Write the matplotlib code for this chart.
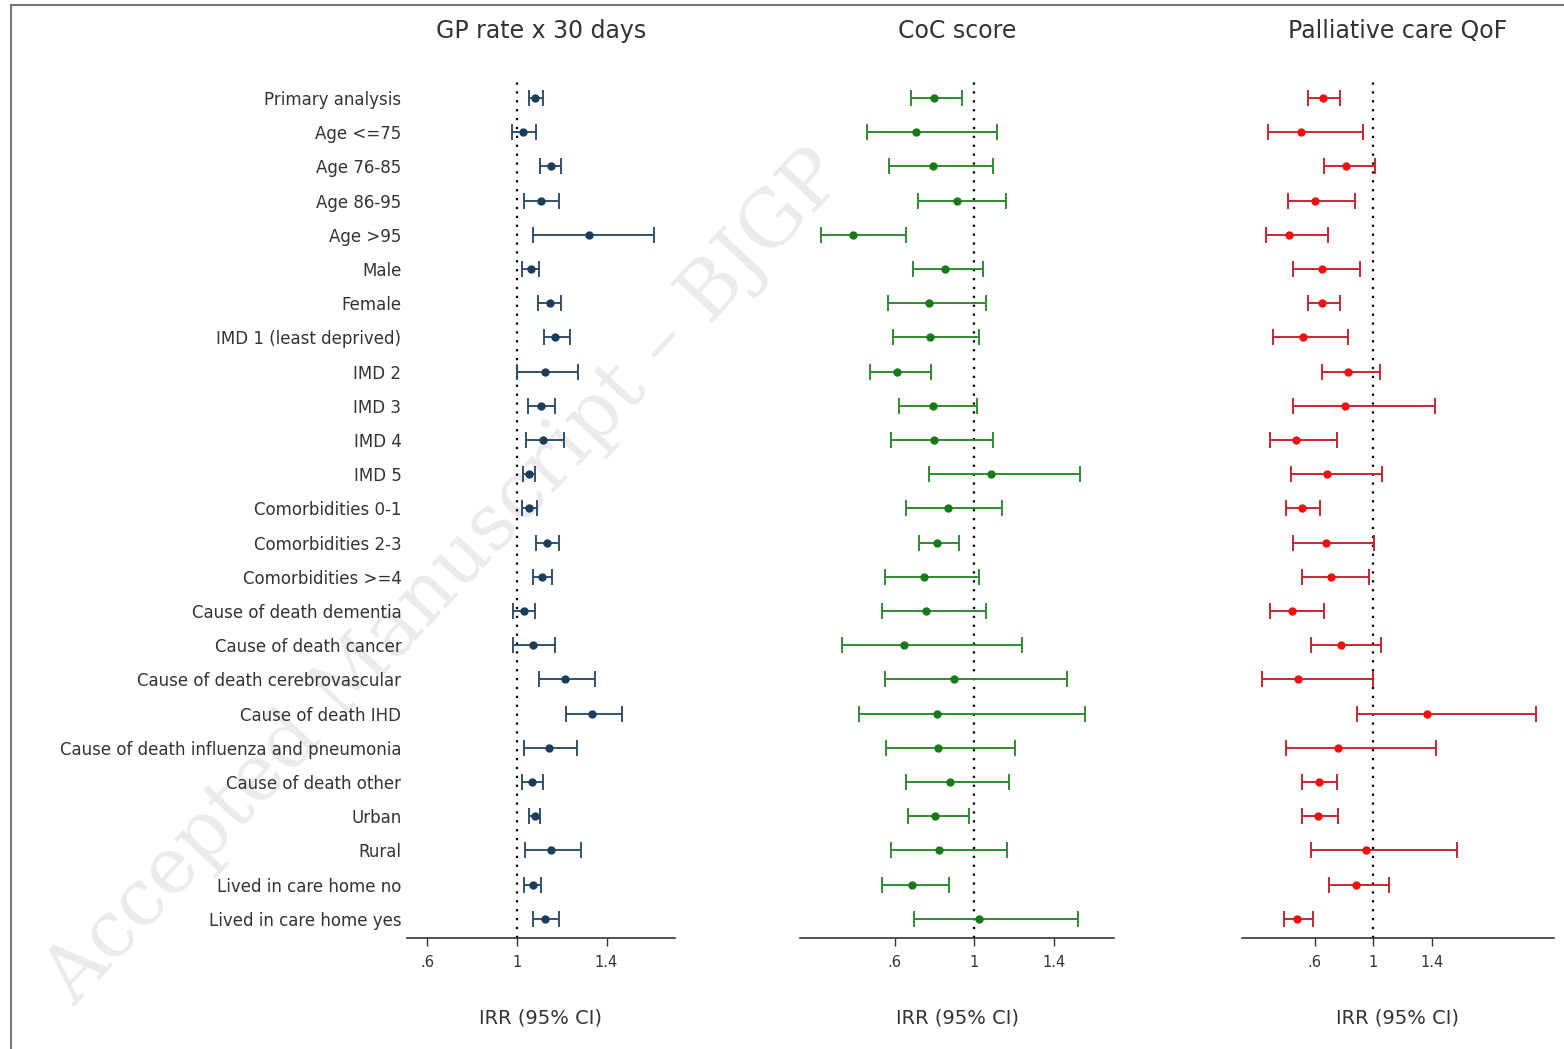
import matplotlib
matplotlib.use("Agg")
import matplotlib.pyplot as plt
import numpy as np

labels = ["Primary analysis", "Age <=75", "Age 76-85", "Age 86-95", "Age >95",
          "Male", "Female", "IMD 1 (least deprived)", "IMD 2", "IMD 3", "IMD 4",
          "IMD 5", "Comorbidities 0-1", "Comorbidities 2-3", "Comorbidities >=4",
          "Cause of death dementia", "Cause of death cancer",
          "Cause of death cerebrovascular", "Cause of death IHD",
          "Cause of death influenza and pneumonia", "Cause of death other",
          "Urban", "Rural", "Lived in care home no", "Lived in care home yes"]

# GP rate x 30 days
gp_irr = [1.083, 1.030, 1.151, 1.107, 1.321, 1.064, 1.146, 1.172, 1.128, 1.110, 1.119,
          1.053, 1.055, 1.137, 1.113, 1.033, 1.071, 1.217, 1.334, 1.143, 1.068,
          1.080, 1.151, 1.071, 1.126]
gp_lo = [1.056, 0.978, 1.104, 1.033, 1.074, 1.025, 1.095, 1.122, 1.000, 1.048, 1.040,
         1.030, 1.025, 1.088, 1.073, 0.985, 0.985, 1.097, 1.218, 1.033, 1.024,
         1.056, 1.039, 1.031, 1.073]
gp_hi = [1.116, 1.085, 1.196, 1.187, 1.613, 1.098, 1.196, 1.236, 1.275, 1.171, 1.211,
         1.083, 1.089, 1.187, 1.156, 1.083, 1.171, 1.349, 1.468, 1.267, 1.116,
         1.105, 1.285, 1.107, 1.189]

# CoC score
coc_irr = [0.799, 0.706, 0.790, 0.914, 0.388, 0.851, 0.773, 0.779, 0.609, 0.794, 0.797,
           1.084, 0.866, 0.812, 0.745, 0.757, 0.648, 0.896, 0.814, 0.817, 0.876,
           0.802, 0.822, 0.686, 1.025]
coc_lo = [0.681, 0.458, 0.572, 0.718, 0.228, 0.693, 0.564, 0.592, 0.473, 0.619, 0.582,
          0.773, 0.656, 0.720, 0.549, 0.537, 0.336, 0.549, 0.419, 0.557, 0.656,
          0.664, 0.582, 0.537, 0.695]
coc_hi = [0.940, 1.112, 1.092, 1.158, 0.658, 1.045, 1.057, 1.022, 0.784, 1.012, 1.094,
          1.530, 1.138, 0.921, 1.022, 1.057, 1.240, 1.466, 1.557, 1.203, 1.176,
          0.975, 1.166, 0.874, 1.522]

# Palliative care QoF
qof_irr = [0.654, 0.508, 0.813, 0.599, 0.426, 0.647, 0.649, 0.519, 0.827, 0.804, 0.474,
           0.681, 0.510, 0.676, 0.708, 0.442, 0.781, 0.487, 1.369, 0.756, 0.626,
           0.622, 0.950, 0.884, 0.478]
qof_lo = [0.551, 0.280, 0.665, 0.417, 0.266, 0.453, 0.551, 0.316, 0.651, 0.453, 0.291,
          0.439, 0.403, 0.453, 0.515, 0.291, 0.576, 0.241, 0.886, 0.403, 0.515,
          0.515, 0.576, 0.699, 0.389]
qof_hi = [0.774, 0.927, 1.011, 0.877, 0.690, 0.911, 0.774, 0.824, 1.048, 1.419, 0.752,
          1.062, 0.638, 1.007, 0.973, 0.665, 1.050, 1.000, 2.112, 1.431, 0.752,
          0.761, 1.570, 1.107, 0.587]

titles = ["GP rate x 30 days", "CoC score", "Palliative care QoF"]
tick_vals = [0.6, 1.0, 1.4]
tick_text = [".6", "1", "1.4"]

plt.rcParams["font.family"] = ["DejaVu Sans"]
txt = "#333333"

fig = plt.figure(figsize=(15.64, 10.49), dpi=100)

# faint watermark, kept behind everything
fig.text(0.055, 0.03, "Accepted Manuscript \u2013 BJGP", rotation=47,
         rotation_mode="anchor", ha="left", va="bottom", fontsize=56,
         family="DejaVu Serif", color="#ebebeb", zorder=-10)

# page frame (left and top edges)
fig.add_artist(plt.Line2D([0.007, 0.007], [0, 0.995], color="#777777", lw=1.5))
fig.add_artist(plt.Line2D([0.007, 1], [0.995, 0.995], color="#777777", lw=1.5))

bottom, height = 0.1058, 0.8179
panels = [
    (0.2602, 0.1714, (0.511, 1.705), gp_irr, gp_lo, gp_hi, "#2b4a68", "#1c3c5c"),
    (0.5115, 0.2008, (0.123, 1.703), coc_irr, coc_lo, coc_hi, "#2a862a", "#177a17"),
    (0.7939, 0.1997, (0.100, 2.236), qof_irr, qof_lo, qof_hi, "#c41e2a", "#ee1111"),
]

y = np.arange(len(labels))
for k, (left, width, xl, irr, lo, hi, lc, mc) in enumerate(panels):
    ax = fig.add_axes([left, bottom, width, height])
    ax.patch.set_alpha(0)
    irr = np.array(irr)
    err = [irr - np.array(lo), np.array(hi) - irr]
    ax.axvline(1, color="black", lw=1.6, ls=(0, (1, 3)), zorder=1)
    ax.errorbar(irr, y, xerr=err, fmt="o", color=lc, ecolor=lc, mfc=mc, mec=mc,
                ms=5, elinewidth=1.35, capsize=6, capthick=1.35, zorder=3)
    ax.set_xlim(*xl)
    ax.set_ylim(24.56, -0.526)
    for s in ["left", "right", "top"]:
        ax.spines[s].set_visible(False)
    ax.spines["bottom"].set_color("#333333")
    ax.spines["bottom"].set_linewidth(1.2)
    ax.set_xticks(tick_vals)
    ax.set_xticklabels(tick_text)
    ax.tick_params(axis="x", length=6, width=1, color="#333333", labelsize=10.5,
                   labelcolor=txt, pad=6)
    if k == 0:
        ax.set_yticks(y)
        ax.set_yticklabels(labels, fontsize=12, color=txt)
        ax.tick_params(axis="y", length=0, pad=4)
    else:
        ax.set_yticks([])
    ax.set_title(titles[k], fontsize=17, color=txt, pad=30)
    ax.set_xlabel("IRR (95% CI)", fontsize=14, color=txt, labelpad=28)

fig.savefig("out.png", dpi=100)
